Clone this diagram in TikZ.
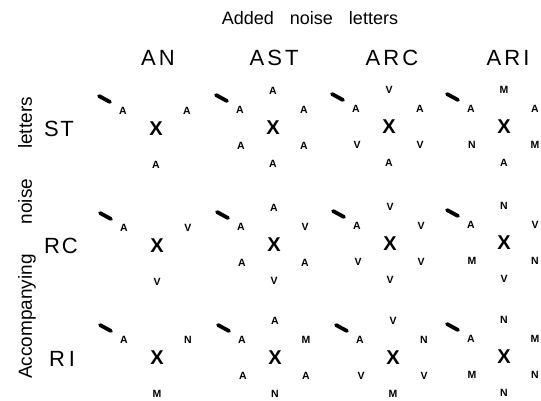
\documentclass[tikz,border=0pt]{standalone}
\usepackage{fontspec}
\setmainfont{Liberation Sans}
\begin{document}
\begin{tikzpicture}[x=1pt,y=-1pt,
  title/.style={font=\fontsize{18}{18}\selectfont, inner sep=0pt},
  sidetitle/.style={font=\fontsize{19}{19}\selectfont, inner sep=0pt, rotate=90},
  colhead/.style={font=\fontsize{22}{22}\selectfont\addfontfeature{LetterSpace=14}, inner sep=0pt},
  rowhead/.style={font=\fontsize{22}{22}\selectfont\addfontfeature{LetterSpace=8}, inner sep=0pt},
  target/.style={font=\fontsize{20}{20}\selectfont\bfseries, inner sep=0pt},
  noise/.style={font=\fontsize{10.5}{10.5}\selectfont\bfseries, inner sep=0pt},
  stroke/.style={line width=3.8pt, line cap=round}]
\useasboundingbox (0,0) rectangle (541,400);
\clip (0,0) rectangle (541,400);

% a display: fixation stroke, target X and six surrounding letter slots
% #1 name, #2 centre, #3 top, #4 upper left, #5 upper right,
% #6 lower left, #7 lower right, #8 bottom
\newcommand\fullcell[8]{%
  \node[target] (#1) at (#2) {X};
  \node[noise] (#1-t)  at ([shift={(0,-37)}]#1)   {#3};
  \node[noise] (#1-ul) at ([shift={(-33,-18)}]#1) {#4};
  \node[noise] (#1-ur) at ([shift={(31,-18)}]#1)  {#5};
  \node[noise] (#1-ll) at ([shift={(-32,18)}]#1)  {#6};
  \node[noise] (#1-lr) at ([shift={(31,18)}]#1)   {#7};
  \node[noise] (#1-b)  at ([shift={(0,36)}]#1)    {#8};
  \coordinate (#1-s) at ([shift={(-57,-33)}]#1);
  \coordinate (#1-e) at ([shift={(-46,-27)}]#1);
  \draw[stroke] (#1-s) -- (#1-e);
}
% display with accompanying letters only
\newcommand\sparsecell[5]{%
  \node[target] (#1) at (#2) {X};
  \node[noise] (#1-ul) at ([shift={(-33,-18)}]#1) {#3};
  \node[noise] (#1-ur) at ([shift={(31,-18)}]#1)  {#4};
  \node[noise] (#1-b)  at ([shift={(0,36)}]#1)    {#5};
  \coordinate (#1-s) at ([shift={(-57,-33)}]#1);
  \coordinate (#1-e) at ([shift={(-46,-27)}]#1);
  \draw[stroke] (#1-s) -- (#1-e);
}

% headings
\node[title] (ttl) at (310,18) {Added\hspace{16pt}noise\hspace{16pt}letters};
\node[colhead] (hAN)  at (158,58) {AN};
\node[colhead] (hAST) at (274,58) {AST};
\node[colhead] (hARC) at (392,58) {ARC};
\node[colhead] (hARI) at (508,58) {ARI};

\node[sidetitle] (side) at (27,238)
  {Accompanying\hspace{30pt}noise\hspace{30pt}letters};
\node[rowhead] (rST) at (59,129) {ST};
\node[rowhead] (rRC) at (61,246) {RC};
\node[rowhead] (rRI) at (62,359) {R\hspace{4pt}I};

% row ST
\sparsecell{stan}{156,129}{A}{A}{A}
\fullcell{stast}{273,128}{A}{A}{A}{A}{A}{A}
\fullcell{starc}{389,127}{V}{A}{A}{V}{V}{A}
\fullcell{stari}{504,127}{M}{A}{A}{N}{M}{A}

% row RC
\sparsecell{rcan}{157,246}{A}{V}{V}
\fullcell{rcast}{274,245}{A}{A}{V}{A}{A}{V}
\fullcell{rcarc}{390,244}{V}{A}{V}{V}{V}{V}
\fullcell{rcari}{504,243}{N}{A}{V}{M}{N}{V}

% row RI
\sparsecell{rian}{157,358}{A}{N}{M}
\fullcell{riast}{275,358}{A}{A}{M}{A}{A}{N}
\fullcell{riarc}{393,358}{V}{A}{N}{V}{V}{M}
\fullcell{riari}{504,357}{N}{A}{M}{M}{N}{N}
\end{tikzpicture}
\end{document}
